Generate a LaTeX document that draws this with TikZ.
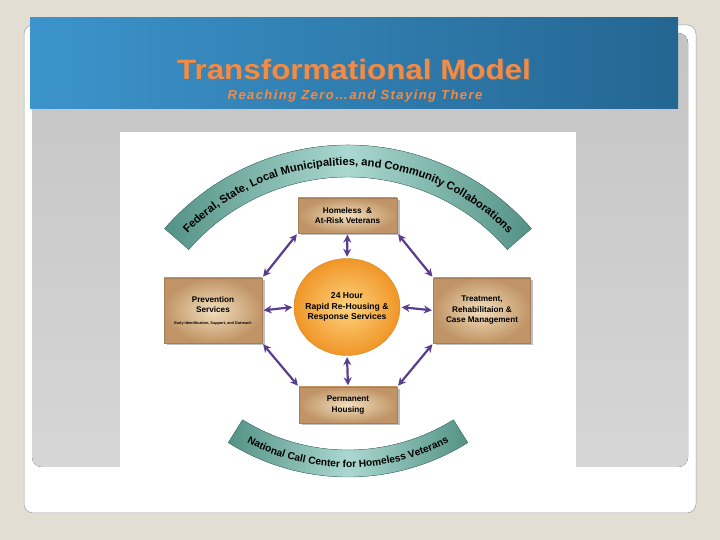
\documentclass[tikz,border=0pt]{standalone}
\usepackage{fontspec}
\setmainfont{Liberation Sans}
\usetikzlibrary{shapes.geometric,arrows.meta,positioning,shadows,decorations.text}

\definecolor{slidebg}{RGB}{227,222,212}
\definecolor{panelgray}{RGB}{196,196,196}
\definecolor{panelgraylt}{RGB}{214,214,214}
\definecolor{headblue}{RGB}{60,148,204}
\definecolor{headbluedk}{RGB}{36,102,146}
\definecolor{titleorange}{RGB}{240,140,72}
\definecolor{bandteal}{RGB}{84,146,134}
\definecolor{bandtealt}{RGB}{170,216,208}
\definecolor{tanlt}{RGB}{242,222,188}
\definecolor{tandk}{RGB}{192,148,102}
\definecolor{hublt}{RGB}{253,210,126}
\definecolor{hubdk}{RGB}{240,150,40}
\definecolor{arrowpurple}{RGB}{90,62,142}

\begin{document}
\begin{tikzpicture}[x=1pt,y=1pt,
  stage/.style={rectangle, shading=radial, inner color=tanlt, outer color=tandk, draw=tandk!85!black, line width=0.3pt, drop shadow={shadow xshift=2.5pt, shadow yshift=-2.5pt, opacity=0.5}, align=center, font=\fontsize{8.2}{10.5}\selectfont\bfseries, inner sep=1pt},
  hub/.style={ellipse, shading=radial, inner color=hublt, outer color=hubdk, draw=hubdk!90!black, line width=0.4pt, minimum width=106pt, minimum height=97pt, align=center, font=\fontsize{8.6}{10.5}\selectfont\bfseries, inner xsep=-12pt, inner ysep=0pt},
  link/.style={{Stealth[length=8pt,width=8pt]}-{Stealth[length=8pt,width=8pt]}, line width=2.2pt, draw=arrowpurple, shorten <=1.5pt, shorten >=1.5pt},
  band/.style={left color=bandteal, right color=bandteal, middle color=bandtealt, draw=bandteal!80!black, line width=0.3pt},
  bandtext/.style={decorate, decoration={text along path, text align=center, text={#1}}},
]
\useasboundingbox (0,0) rectangle (720,540);

% --- slide: backdrop, white card, grey panel, blue header ---
\fill[slidebg] (0,0) rectangle (720,540);
\draw[white, fill=white, rounded corners=9pt] (24,27) rectangle (696,515);
\draw[black!40, line width=0.5pt, rounded corners=9pt] (24,27) rectangle (696,515);
\fill[top color=panelgray, bottom color=panelgraylt, rounded corners=10pt] (32,73) rectangle (688,507);
\fill[left color=headblue, right color=headbluedk] (30,431) rectangle (678,522);

\node[font=\fontsize{28}{30}\selectfont\bfseries\addfontfeature{FakeStretch=1.12}, text=black!55] (titleshade) at (355,469) {Transformational Model};
\node[font=\fontsize{28}{30}\selectfont\bfseries\addfontfeature{FakeStretch=1.12}, text=titleorange] (title) at (354,470) {Transformational Model};
\node[font=\fontsize{13}{14}\selectfont\bfseries\itshape\addfontfeature{LetterSpace=11}, text=titleorange] (subtitle) at (355,444) {Reaching Zero\ldots and Staying There};

% --- picture area ---
\fill[white] (120,50) rectangle (576,408);

% --- outer bands (drawn as shapes, text follows the arc) ---
\coordinate (topc) at (348,152);
\coordinate (botc) at (348,289);
\fill[band] ([shift={(41:243)}]topc) arc[start angle=41, end angle=139, radius=243]
  -- ([shift={(139:211)}]topc) arc[start angle=139, end angle=41, radius=211] -- cycle;
\path[bandtext={|\fontsize{11.2}{12}\selectfont\bfseries|Federal, State, Local Municipalities, and Community Collaborations}]
  ([shift={(140:222.5)}]topc) arc[start angle=140, end angle=40, radius=222.5];

\fill[band] ([shift={(238:226)}]botc) arc[start angle=238, end angle=302, radius=226]
  -- ([shift={(302:199)}]botc) arc[start angle=302, end angle=238, radius=199] -- cycle;
\path[bandtext={|\fontsize{10.2}{11}\selectfont\bfseries|National Call Center for Homeless Veterans}]
  ([shift={(239:216.5)}]botc) arc[start angle=239, end angle=301, radius=216.5];

% --- stages round the hub ---
\node[hub] (hub) at (347,233) {24 Hour\\Rapid Re-Housing \&\\Response Services};
\node[stage, minimum width=99pt, minimum height=35pt] (homeless) at (347.5,324.5) {Homeless\ \ \&\\At-Risk Veterans};
\node[stage, minimum width=98pt, minimum height=65pt] (prevent) at (213,229.5) {Prevention\\Services\\[1pt]{\fontsize{3.8}{5}\selectfont Early Identification, Support, and Outreach}};
\node[stage, minimum width=97pt, minimum height=65pt] (treat) at (482,229.5) {Treatment,\\Rehabilitaion \&\\Case Management};
\node[stage, minimum width=98pt, minimum height=36pt] (perm) at (348,135) {Permanent\\Housing};

% --- arrows: spokes ---
\draw[link] (homeless.south) -- (hub.north);
\draw[link] (prevent.east) -- (hub.west);
\draw[link] (hub.east) -- (treat.west);
\draw[link] (hub.south) -- (perm.north);

% --- arrows: outer ring ---
\draw[link] (homeless.south west) -- (prevent.north east);
\draw[link] (homeless.south east) -- (treat.north west);
\draw[link] (prevent.south east) -- (perm.north west);
\draw[link] (treat.south west) -- (perm.north east);

\end{tikzpicture}
\end{document}
